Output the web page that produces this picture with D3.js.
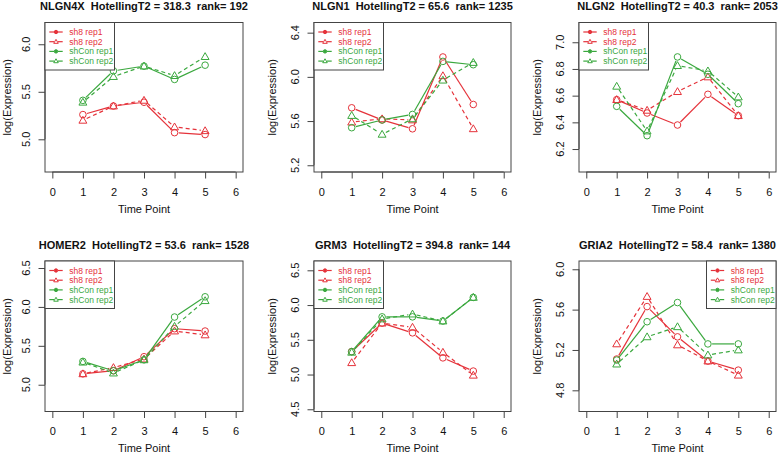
<!DOCTYPE html>
<html>
<head>
<meta charset="utf-8">
<script src="https://cdn.jsdelivr.net/npm/d3@7"></script>
<style>
  html, body { margin: 0; padding: 0; background: #ffffff; }
  svg { display: block; }
  text { font-family: "Liberation Sans", Arial, sans-serif; }
</style>
</head>
<body>
<svg id="chart" width="778" height="454"></svg>
<script>
// ---------- data ----------
const timePoints = [1, 2, 3, 4, 5];
const xTicks = [0, 1, 2, 3, 4, 5, 6];
const seriesNames = ["sh8 rep1", "sh8 rep2", "shCon rep1", "shCon rep2"];
const genes = ["NLGN4X", "NLGN1", "NLGN2", "HOMER2", "GRM3", "GRIA2"];
const hotellingT2 = ["318.3", "65.6", "40.3", "53.6", "394.8", "58.4"];
const ranks = ["192", "1235", "2053", "1528", "144", "1380"];
const yLimits = [[4.656, 6.229], [5.139, 6.492], [6.028, 7.148], [4.656, 6.59], [4.468, 6.634], [4.59, 6.082]];
const yTicks = [[5.0, 5.5, 6.0], [5.2, 5.6, 6.0, 6.4], [6.2, 6.4, 6.6, 6.8, 7.0], [5.0, 5.5, 6.0, 6.5], [4.5, 5.0, 5.5, 6.0, 6.5], [4.8, 5.2, 5.6, 6.0]];
const legendCorner = ["topleft", "topleft", "topleft", "topleft", "topleft", "topright"];

// series order: sh8 rep1, sh8 rep2, shCon rep1, shCon rep2
const valuesNLGN4X = [[5.26, 5.35, 5.39, 5.07, 5.05], [5.20, 5.35, 5.41, 5.13, 5.09], [5.41, 5.72, 5.77, 5.63, 5.78], [5.39, 5.66, 5.77, 5.67, 5.87]];
const valuesNLGN1  = [[5.72, 5.61, 5.53, 6.18, 5.75], [5.59, 5.62, 5.61, 6.01, 5.53], [5.54, 5.61, 5.66, 6.14, 6.11], [5.65, 5.48, 5.62, 5.97, 6.13]];
const valuesNLGN2  = [[6.57, 6.47, 6.38, 6.61, 6.45], [6.57, 6.49, 6.63, 6.74, 6.45], [6.52, 6.30, 6.89, 6.76, 6.54], [6.67, 6.335, 6.825, 6.785, 6.59]];
const valuesHOMER2 = [[5.14, 5.18, 5.36, 5.72, 5.69], [5.14, 5.22, 5.33, 5.69, 5.64], [5.30, 5.18, 5.32, 5.87, 6.13], [5.29, 5.15, 5.32, 5.75, 6.08]];
const valuesGRM3   = [[5.33, 5.74, 5.60, 5.24, 5.05], [5.17, 5.74, 5.68, 5.32, 4.99], [5.33, 5.83, 5.83, 5.77, 6.11], [5.32, 5.80, 5.87, 5.77, 6.11]];
const valuesGRIA2  = [[5.11, 5.63, 5.33, 5.09, 5.00], [5.26, 5.73, 5.25, 5.09, 4.95], [5.10, 5.48, 5.67, 5.26, 5.26], [5.06, 5.33, 5.43, 5.15, 5.20]];
const allValues = [valuesNLGN4X, valuesNLGN1, valuesNLGN2, valuesHOMER2, valuesGRM3, valuesGRIA2];

// ---------- styles / layout ----------
const RED = "#e5323a", GREEN = "#3aa83e";
const seriesColor = [RED, RED, GREEN, GREEN];
const seriesDash = [null, "4,3", null, "4,3"];
const seriesShape = ["circle", "triangle", "circle", "triangle"];
const colLeft = [45, 314, 579], colRight = [243, 511, 776];
const rowTop = [22.5, 261], rowBottom = [172, 411.5];
const yTitleX = [7, 272, 537];
const yTickLabelOffset = 15;
const tickLen = 6.5;

const svg = d3.select("#chart");

function drawMarker(g, shape, x, y, color, small) {
  if (shape === "circle") {
    g.append("circle").attr("cx", x).attr("cy", y).attr("r", small ? 1.7 : 3.3)
      .attr("fill", small ? color : "none").attr("stroke", color).attr("stroke-width", 1);
  } else {
    g.append("path")
      .attr("d", d3.symbol(d3.symbolTriangle, small ? 9 : 27)())
      .attr("transform", `translate(${x},${y + (small ? 0.3 : 0.6)})`)
      .attr("fill", "none").attr("stroke", color).attr("stroke-width", 1);
  }
}

genes.forEach((gene, i) => {
  const col = i % 3, row = Math.floor(i / 3);
  const L = colLeft[col], R = colRight[col], T = rowTop[row], B = rowBottom[row];
  const x = d3.scaleLinear().domain([-0.24, 6.24]).range([L, R]);
  const y = d3.scaleLinear().domain(yLimits[i]).range([B, T]);
  const g = svg.append("g");

  // data lines (type = "b": gaps around points)
  const gap = 4.2;
  allValues[i].forEach((vals, s) => {
    const pts = timePoints.map((t, k) => [x(t), y(vals[k])]);
    for (let k = 0; k < pts.length - 1; k++) {
      const [x0, y0] = pts[k], [x1, y1] = pts[k + 1];
      const dx = x1 - x0, dy = y1 - y0, len = Math.hypot(dx, dy);
      if (len <= 2 * gap) continue;
      const ux = dx / len, uy = dy / len;
      g.append("line")
        .attr("x1", x0 + ux * gap).attr("y1", y0 + uy * gap)
        .attr("x2", x1 - ux * gap).attr("y2", y1 - uy * gap)
        .attr("stroke", seriesColor[s]).attr("stroke-width", 1.2)
        .attr("stroke-dasharray", seriesDash[s]);
    }
    pts.forEach(([px, py]) => drawMarker(g, seriesShape[s], px, py, seriesColor[s], false));
  });

  // box
  g.append("rect").attr("x", L).attr("y", T).attr("width", R - L).attr("height", B - T)
    .attr("fill", "none").attr("stroke", "#444").attr("stroke-width", 1);

  // x axis
  const xa = g.append("g").attr("transform", `translate(0,${B})`)
    .call(d3.axisBottom(x).tickValues(xTicks).tickFormat(d3.format("d")).tickSize(tickLen).tickPadding(9.5));
  xa.select(".domain").attr("stroke", "#444").attr("d", `M${x(0)},0H${x(6)}`);
  xa.selectAll(".tick line").attr("stroke", "#444");
  xa.selectAll(".tick text").attr("font-size", "11px").attr("fill", "#111")
    .attr("font-family", "Liberation Sans, Arial, sans-serif");

  // y axis
  const ya = g.append("g").attr("transform", `translate(${L},0)`)
    .call(d3.axisLeft(y).tickValues(yTicks[i]).tickFormat(d3.format(".1f")).tickSize(tickLen));
  ya.select(".domain").attr("stroke", "#444")
    .attr("d", `M0,${y(yTicks[i][0])}V${y(yTicks[i][yTicks[i].length - 1])}`);
  ya.selectAll(".tick line").attr("stroke", "#444");
  ya.selectAll(".tick text").remove();
  yTicks[i].forEach(v => {
    g.append("text")
      .attr("transform", `translate(${L - yTickLabelOffset},${y(v)}) rotate(-90)`)
      .attr("text-anchor", "middle").attr("font-size", "11px").attr("fill", "#111")
      .text(d3.format(".1f")(v));
  });

  // titles
  g.append("text").attr("x", (L + R) / 2).attr("y", T - 12.5)
    .attr("text-anchor", "middle").attr("font-size", "11px").attr("font-weight", "bold")
    .attr("fill", "#111").attr("xml:space", "preserve").style("white-space", "pre")
    .text(`${gene}  HotellingT2 = ${hotellingT2[i]}  rank= ${ranks[i]}`);
  g.append("text").attr("x", (L + R) / 2).attr("y", B + 40.5)
    .attr("text-anchor", "middle").attr("font-size", "11px").attr("fill", "#111")
    .text("Time Point");
  g.append("text")
    .attr("transform", `translate(${yTitleX[col] + 4},${(T + B) / 2}) rotate(-90)`)
    .attr("text-anchor", "middle").attr("font-size", "11px").attr("fill", "#111")
    .text("log(Expression)");

  // legend
  const lw = 69.5, lh = 47.5;
  const lx = legendCorner[i] === "topright" ? R - lw : L;
  const lg = g.append("g");
  lg.append("rect").attr("x", lx).attr("y", T).attr("width", lw).attr("height", lh)
    .attr("fill", "#fff").attr("stroke", "#444").attr("stroke-width", 1);
  seriesNames.forEach((name, s) => {
    const ry = T + 9.5 + s * 9.7;
    lg.append("line").attr("x1", lx + 4.3).attr("x2", lx + 9).attr("y1", ry).attr("y2", ry)
      .attr("stroke", seriesColor[s]).attr("stroke-width", 1.2);
    lg.append("line").attr("x1", lx + 13).attr("x2", lx + 17.7).attr("y1", ry).attr("y2", ry)
      .attr("stroke", seriesColor[s]).attr("stroke-width", 1.2);
    drawMarker(lg, seriesShape[s], lx + 11, ry, seriesColor[s], true);
    lg.append("text").attr("x", lx + 24.3).attr("y", ry + 3)
      .attr("font-size", "8.5px").attr("fill", seriesColor[s]).text(name);
  });
});
</script>
</body>
</html>
